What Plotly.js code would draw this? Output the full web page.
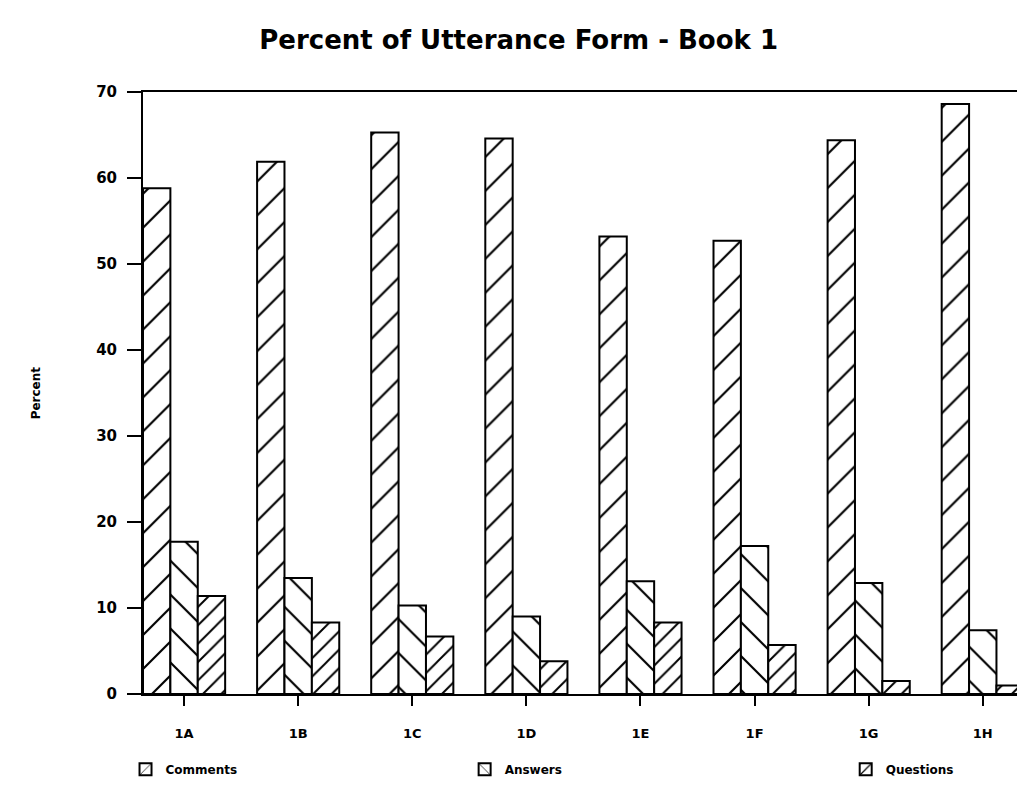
<!DOCTYPE html>
<html>
<head>
<meta charset="utf-8">
<script src="https://cdn.plot.ly/plotly-3.0.1.min.js"></script>
<style>html,body{margin:0;padding:0;background:#fff;}#chart{width:1017px;height:799px;}</style>
</head>
<body>
<div id="chart"></div>
<script>
// Data
const categories = ["1A", "1B", "1C", "1D", "1E", "1F", "1G", "1H"];
const comments  = [58.8, 61.9, 65.3, 64.6, 53.2, 52.7, 64.4, 68.6];
const answers   = [17.7, 13.5, 10.3, 9.0, 13.1, 17.2, 12.9, 7.4];
const questions = [11.4, 8.3, 6.7, 3.8, 8.3, 5.7, 1.5, 1.0];
const yTicks = [0, 10, 20, 30, 40, 50, 60, 70];

const FONT = "DejaVu Sans, Liberation Sans, sans-serif";

function barTrace(name, values, shape, size, solidity, legendId) {
  return {
    type: "bar",
    name: name,
    x: categories,
    y: values,
    legend: legendId,
    marker: {
      color: "#ffffff",
      line: {color: "#000000", width: 2},
      pattern: {shape: shape, size: size, solidity: solidity, fgcolor: "#000000", fgopacity: 1, bgcolor: "#ffffff", fillmode: "replace"}
    },
    hoverinfo: "x+y+name"
  };
}

const data = [
  barTrace("Comments", comments, "/", 24, 0.09, "legend"),
  barTrace("Answers", answers, "\\", 24, 0.09, "legend2"),
  barTrace("Questions", questions, "/", 13, 0.15, "legend3")
];

function legendAt(xp) {
  return {
    orientation: "h", x: xp, xanchor: "left", y: -0.125, yanchor: "middle",
    font: {family: FONT, size: 12, color: "#000", weight: "bold"},
    bgcolor: "rgba(0,0,0,0)", itemwidth: 30
  };
}

const layout = {
  width: 1017, height: 799,
  paper_bgcolor: "#ffffff", plot_bgcolor: "#ffffff",
  margin: {l: 143, r: 0, t: 92, b: 105},
  barmode: "group",
  bargap: 0.28,
  bargroupgap: 0,
  showlegend: true,
  title: {
    text: "Percent of Utterance Form - Book 1",
    font: {family: FONT, size: 26, color: "#000", weight: "bold"},
    xref: "container", x: 0.51, xanchor: "center",
    yref: "container", y: 0.95, yanchor: "middle"
  },
  xaxis: {
    type: "category",
    range: [-0.36, 7.3],
    showline: true, linecolor: "#000", linewidth: 2, mirror: true,
    ticks: "outside", ticklen: 10, tickwidth: 2, tickcolor: "#000",
    showgrid: false, zeroline: false,
    ticklabelstandoff: 16,
    tickfont: {family: FONT, size: 13, color: "#000", weight: "bold"}
  },
  yaxis: {
    range: [0, 70],
    tickvals: yTicks,
    ticktext: yTicks.map(String),
    showline: true, linecolor: "#000", linewidth: 2,
    ticks: "outside", ticklen: 14, tickwidth: 2, tickcolor: "#000",
    showgrid: false, zeroline: false,
    ticklabelstandoff: 7,
    tickfont: {family: FONT, size: 15, color: "#000", weight: "bold"}
  },
  legend: legendAt(-0.020),
  legend2: legendAt(0.368),
  legend3: legendAt(0.804),
  annotations: [{
    text: "Percent",
    textangle: -90,
    xref: "paper", x: -0.122, xanchor: "center",
    yref: "paper", y: 0.5, yanchor: "middle",
    showarrow: false,
    font: {family: FONT, size: 12, color: "#000", weight: "bold"}
  }]
};

Plotly.newPlot("chart", data, layout, {displayModeBar: false, staticPlot: true});
</script>
</body>
</html>
